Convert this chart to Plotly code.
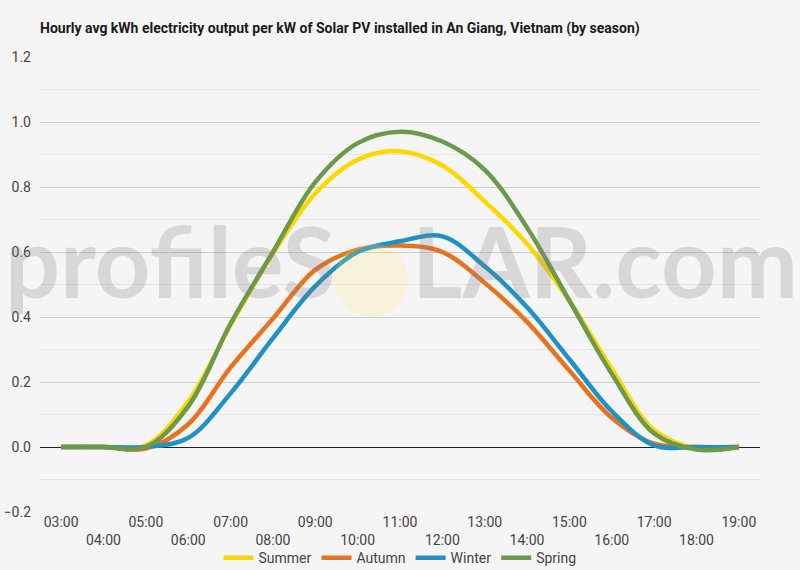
#!/usr/bin/env python
# coding: utf-8

"""Hourly avg kWh output per kW of solar PV in An Giang, Vietnam, by season."""

import plotly.graph_objects as go

# data
HOURS = ["03:00", "04:00", "05:00", "06:00", "07:00", "08:00", "09:00", "10:00", "11:00",
         "12:00", "13:00", "14:00", "15:00", "16:00", "17:00", "18:00", "19:00"]
SUMMER = [0, 0, 0.005, 0.14, 0.375, 0.595, 0.78, 0.884, 0.91, 0.866, 0.756, 0.625, 0.45, 0.24, 0.052, -0.005, 0.0]
AUTUMN = [0, 0, -0.005, 0.07, 0.245, 0.395, 0.545, 0.607, 0.62, 0.60, 0.505, 0.385, 0.235, 0.09, 0.01, 0.0, 0.0]
WINTER = [0, 0, 0.0, 0.028, 0.165, 0.335, 0.495, 0.60, 0.633, 0.648, 0.556, 0.43, 0.27, 0.11, 0.005, 0.0, 0.0]
SPRING = [0, 0, 0.0, 0.125, 0.38, 0.60, 0.815, 0.935, 0.97, 0.94, 0.853, 0.675, 0.45, 0.225, 0.042, -0.008, 0.0]

SERIES = [
    ("Summer", SUMMER, "#FFD700"),
    ("Autumn", AUTUMN, "#E8731F"),
    ("Winter", WINTER, "#1E92C6"),
    ("Spring", SPRING, "#6B9A4B"),
]

BG = "#F5F5F5"
FONT = "Roboto"


def make_figure() -> go.Figure:
    fig = go.Figure()
    for name, values, color in SERIES:
        fig.add_trace(go.Scatter(
            x=HOURS, y=values, name=name, mode="lines",
            line=dict(color=color, width=4.5, shape="spline", smoothing=1.0),
        ))

    # alternate tick labels onto two rows
    ticktext = [h if i % 2 == 0 else "<br>" + h for i, h in enumerate(HOURS)]

    fig.update_layout(
        width=800, height=570,
        margin=dict(l=40, r=40, t=57, b=58, autoexpand=False),
        paper_bgcolor=BG, plot_bgcolor=BG,
        font=dict(family=FONT, size=14, color="#444"),
        title=dict(
            text="Hourly avg kWh electricity output per kW of Solar PV installed in An Giang, Vietnam (by season)",
            x=0.05, xanchor="left", y=0.951, yanchor="middle",
            font=dict(family=FONT, size=14, color="#1a1a1a", weight="bold"),
        ),
        legend=dict(
            orientation="h", x=0.5, xanchor="center",
            yref="container", y=0.021, yanchor="middle",
            font=dict(size=14, color="#444"), itemwidth=30, bgcolor="rgba(0,0,0,0)",
        ),
        showlegend=True,
    )
    fig.update_xaxes(
        range=[-0.5, len(HOURS) - 0.5], automargin=False,
        tickmode="array", tickvals=HOURS, ticktext=ticktext,
        showgrid=False, showline=False, ticks="", tickangle=0,
        tickfont=dict(size=14, color="#444"),
    )
    fig.update_yaxes(
        range=[-0.2, 1.2], dtick=0.2, tick0=0, tickformat=".1f", automargin=False,
        showgrid=True, gridcolor="#CCCCCC", gridwidth=1,
        minor=dict(dtick=0.1, showgrid=True, gridcolor="#E4E4E4", gridwidth=1),
        zeroline=True, zerolinecolor="#222222", zerolinewidth=1,
        ticks="", ticklabelstandoff=8,
        tickfont=dict(size=14, color="#444"),
    )

    # profileSOLAR.com watermark
    wm_font = dict(family="Lato", size=97, color="rgba(128,128,128,0.25)", weight="bold")
    fig.add_annotation(text="profileS", xref="paper", yref="paper", x=-0.052, y=0.552,
                       xanchor="left", yanchor="middle", showarrow=False, font=wm_font)
    fig.add_annotation(text="LAR.com", xref="paper", yref="paper", x=0.514, y=0.552,
                       xanchor="left", yanchor="middle", showarrow=False, font=wm_font)
    fig.add_shape(type="circle", xref="paper", yref="paper",
                  xsizemode="pixel", ysizemode="pixel",
                  xanchor=(371 - 40) / 720, yanchor=(512 - 280) / 455,
                  x0=-37, x1=37, y0=-37, y1=37,
                  fillcolor="rgba(255,232,110,0.2)", line=dict(width=0), layer="above")
    return fig


if __name__ == "__main__":
    make_figure().write_html("out.html", config={"displayModeBar": False},
                             post_script="document.body.style.margin='0';")
